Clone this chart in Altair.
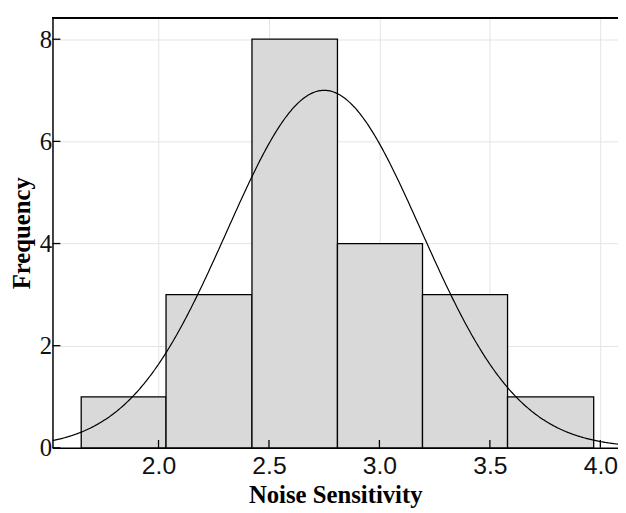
import altair as alt
import pandas as pd

# Histogram bins
bin_start = [1.65, 2.034, 2.423, 2.81, 3.195, 3.58]
bin_end = [2.034, 2.423, 2.81, 3.195, 3.58, 3.97]
counts = [1, 3, 8, 4, 3, 1]

# Axis ticks
x_ticks = [2.0, 2.5, 3.0, 3.5, 4.0]
y_ticks = [0, 2, 4, 6, 8]

# Fitted normal curve parameters
fit_mean = 2.75
fit_sd = 0.44
n_total = 20
bin_width = 0.386

X_MIN, X_MAX = 1.52, 4.08
Y_MAX = 8.42
W, H = 572, 435

bins_df = pd.DataFrame({"start": bin_start, "end": bin_end, "count": counts, "zero": [0] * len(counts)})
xt_df = pd.DataFrame({"t": x_ticks})
yt_df = pd.DataFrame({"t": y_ticks})

x_scale = alt.Scale(domain=[X_MIN, X_MAX], nice=False, zero=False)
y_scale = alt.Scale(domain=[0, Y_MAX], nice=False)

x_axis = alt.Axis(
    title="Noise Sensitivity", values=x_ticks, format=".1f", ticks=False,
    grid=True, gridColor="#e4e4e4", gridWidth=1,
    domain=True, domainColor="black", domainWidth=1.5,
    labelFont="Liberation Sans", labelFontSize=25, labelColor="#111",
    labelPadding=6, labelFlush=False,
    titleFont="Liberation Serif", titleFontSize=25, titleFontWeight="bold",
    titleColor="black", titleBaseline="alphabetic", titleY=55, titleX=W / 2,
)
y_axis = alt.Axis(
    title="Frequency", values=y_ticks, format="d", ticks=False,
    grid=True, gridColor="#e4e4e4", gridWidth=1,
    domain=True, domainColor="black", domainWidth=1.5,
    labelFont="Liberation Serif", labelFontSize=25, labelColor="#111",
    labelPadding=1, labelFlush=False,
    titleFont="Liberation Serif", titleFontSize=25, titleFontWeight="bold",
    titleColor="black", titleBaseline="alphabetic", titleAngle=270,
    titleX=-23, titleY=H / 2,
)

bars = alt.Chart(bins_df).mark_rect(
    fill="#d9d9d9", stroke="black", strokeWidth=1.3
).encode(
    x=alt.X("start:Q", scale=x_scale, axis=x_axis),
    x2="end:Q",
    y=alt.Y("count:Q", scale=y_scale, axis=y_axis),
    y2="zero:Q",
)

curve = alt.Chart(alt.sequence(X_MIN, X_MAX + 0.005, 0.005, as_="v")).transform_calculate(
    f=f"{n_total * bin_width} * densityNormal(datum.v, {fit_mean}, {fit_sd})"
).mark_line(color="black", strokeWidth=1.2, clip=True).encode(
    x=alt.X("v:Q", scale=x_scale, axis=x_axis),
    y=alt.Y("f:Q", scale=y_scale, axis=y_axis),
)

x_tick_marks = alt.Chart(xt_df).mark_rule(color="black", strokeWidth=1.3).encode(
    x=alt.X("t:Q", scale=x_scale, axis=x_axis),
    y=alt.value(H),
    y2=alt.value(H - 8),
)

y_tick_marks = alt.Chart(yt_df).mark_rule(color="black", strokeWidth=1.3).encode(
    y=alt.Y("t:Q", scale=y_scale, axis=y_axis),
    x=alt.value(0),
    x2=alt.value(8),
)

top_border = alt.Chart(xt_df).mark_rule(color="black", strokeWidth=1.5).encode(
    x=alt.value(0), x2=alt.value(W), y=alt.value(0)
)

chart = alt.layer(bars, curve, x_tick_marks, y_tick_marks, top_border).properties(
    width=W, height=H,
    autosize=alt.AutoSizeParams(type="none"),
    padding={"left": 45, "top": 7, "right": 0, "bottom": 62},
    background="white",
).configure_view(stroke=None)

chart.save("out.html", embed_options={"renderer": "svg", "actions": False})
